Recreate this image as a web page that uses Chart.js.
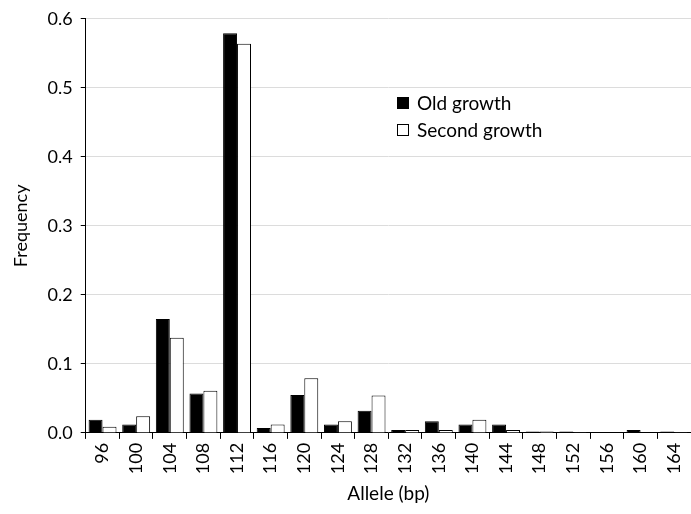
<!DOCTYPE html>
<html>
<head>
<meta charset="utf-8">
<script src="https://cdn.jsdelivr.net/npm/chart.js@4/dist/chart.umd.min.js"></script>
<style>
  body { margin: 0; background: #fff; }
  #wrap { position: relative; width: 691px; height: 514px; }
  #legend { position: absolute; left: 397px; top: 89px; font: 19px Lato, "Open Sans", sans-serif; color: #000; }
  #legend div { height: 27px; display: flex; align-items: center; }
  #legend span.box { display: inline-block; width: 12px; height: 12px; border: 1px solid #000; margin-right: 8px; box-sizing: border-box; }
</style>
</head>
<body>
<div id="wrap">
  <canvas id="alleleChart" width="691" height="514"></canvas>
  <div id="legend">
    <div><span class="box" style="background:#000"></span>Old growth</div>
    <div><span class="box" style="background:#fff"></span>Second growth</div>
  </div>
</div>
<script>
// allele sizes (bp)
const alleles = ['96', '100', '104', '108', '112', '116', '120', '124', '128', '132', '136', '140', '144', '148', '152', '156', '160', '164'];
const oldGrowth = [0.019, 0.012, 0.165, 0.057, 0.579, 0.007, 0.055, 0.012, 0.032, 0.004, 0.017, 0.012, 0.012, 0.002, 0.002, 0, 0.004, 0.002];
const secondGrowth = [0.009, 0.024, 0.138, 0.061, 0.564, 0.012, 0.079, 0.017, 0.054, 0.004, 0.004, 0.019, 0.004, 0.002, 0.001, 0, 0, 0.001];
const yTicks = [0, 0.1, 0.2, 0.3, 0.4, 0.5, 0.6];

const fontFamily = 'Lato, "Open Sans", sans-serif';

const ctx = document.getElementById('alleleChart').getContext('2d');
new Chart(ctx, {
  type: 'bar',
  data: {
    labels: alleles,
    datasets: [{
      label: 'Old growth',
      data: oldGrowth,
      backgroundColor: '#000',
      borderColor: '#000',
      borderWidth: 1
    }, {
      label: 'Second growth',
      data: secondGrowth,
      backgroundColor: '#fff',
      borderColor: '#000',
      borderWidth: 1
    }]
  },
  options: {
    responsive: false,
    animation: false,
    layout: { padding: { top: 9, right: 0, left: 6, bottom: 5 } },
    plugins: {
      legend: { display: false },
      tooltip: { enabled: false }
    },
    datasets: {
      bar: { categoryPercentage: 0.83, barPercentage: 1 }
    },
    scales: {
      x: {
        // let the last category reach the right edge like the original
        afterFit: scale => { scale.paddingRight = 0; },
        grid: { drawOnChartArea: false, drawTicks: true, tickLength: 6, color: '#000', offset: true },
        border: { color: '#000', width: 1 },
        ticks: {
          color: '#000',
          font: { family: fontFamily, size: 18 },
          minRotation: 90,
          maxRotation: 90,
          autoSkip: false,
          padding: 4
        },
        title: {
          display: true,
          text: 'Allele (bp)',
          color: '#000',
          font: { family: fontFamily, size: 19 },
          padding: { top: 4 }
        }
      },
      y: {
        min: 0,
        max: 0.6,
        afterBuildTicks: axis => { axis.ticks = yTicks.map(v => ({ value: v })); },
        grid: { color: '#dcdcdc', tickColor: '#000', tickLength: 5, drawTicks: true },
        border: { color: '#000', width: 1 },
        ticks: {
          color: '#000',
          font: { family: fontFamily, size: 18 },
          padding: 8,
          callback: v => v.toFixed(1)
        },
        title: {
          display: true,
          text: 'Frequency',
          color: '#000',
          font: { family: fontFamily, size: 18 },
          padding: { bottom: 8 }
        }
      }
    }
  }
});
</script>
</body>
</html>
